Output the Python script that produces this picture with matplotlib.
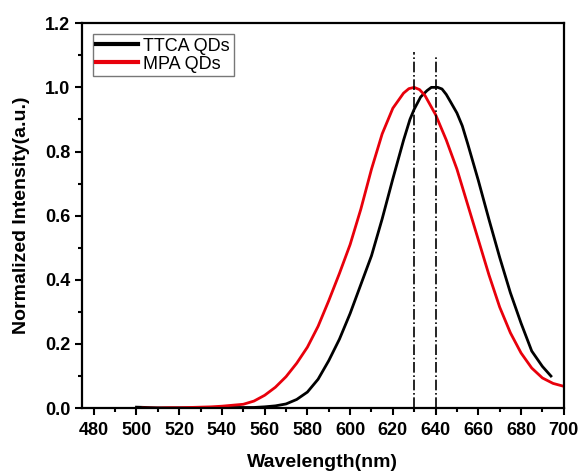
import numpy as np
import matplotlib
matplotlib.use("Agg")
import matplotlib.pyplot as plt
from matplotlib.ticker import MultipleLocator, FormatStrFormatter

plt.rcParams['font.family'] = ['Liberation Sans', 'DejaVu Sans']

# TTCA QDs (black)
wl_ttca = [500, 505, 510, 520, 530, 540, 550, 555, 560, 565, 570, 575, 580, 585,
           590, 595, 600, 605, 610, 615, 620, 625, 628, 630, 633, 636, 638, 641,
           643, 645, 647, 650, 652.5, 655, 660, 665, 670, 675, 680, 685, 690, 694]
int_ttca = [0.003, 0.002, 0.001, 0.001, 0.001, 0.002, 0.002, 0.002, 0.004, 0.007,
            0.013, 0.027, 0.05, 0.09, 0.148, 0.215, 0.295, 0.385, 0.475, 0.59,
            0.715, 0.835, 0.9, 0.932, 0.97, 0.99, 1.0, 1.0, 0.995, 0.978, 0.955,
            0.92, 0.88, 0.825, 0.71, 0.588, 0.47, 0.36, 0.265, 0.178, 0.13, 0.1]

# MPA QDs (red)
wl_mpa = [503, 510, 515, 520, 525, 530, 535, 540, 545, 550, 555, 560, 565, 570,
          575, 580, 585, 590, 595, 600, 605, 610, 615, 620, 625, 627.5, 630,
          632.5, 635, 640, 645, 650, 655, 660, 665, 670, 675, 680, 685, 690, 695,
          700]
int_mpa = [0.0, 0.0, 0.001, 0.001, 0.002, 0.003, 0.004, 0.006, 0.009, 0.012,
           0.022, 0.04, 0.065, 0.098, 0.14, 0.19, 0.255, 0.335, 0.42, 0.51, 0.62,
           0.745, 0.855, 0.935, 0.982, 0.996, 1.0, 0.993, 0.975, 0.915, 0.836,
           0.745, 0.635, 0.525, 0.415, 0.315, 0.235, 0.172, 0.125, 0.094, 0.077,
           0.068]

peaks = [630, 640]
peak_tops = [1.11, 1.095]

fig = plt.figure(figsize=(5.8, 4.74), dpi=100)
ax = fig.add_axes([0.1414, 0.139, 0.8306, 0.812])

ax.plot(wl_ttca, int_ttca, color='black', lw=2.0, label='TTCA QDs')
ax.plot(wl_mpa, int_mpa, color='#e8000b', lw=2.0, label='MPA QDs')
ax.vlines(peaks, 0, peak_tops, colors='black', linestyles='-.', lw=1.2)

ax.set_xlim(474.5, 700)
ax.set_ylim(0, 1.2)
ax.xaxis.set_major_locator(MultipleLocator(20))
ax.xaxis.set_minor_locator(MultipleLocator(10))
ax.yaxis.set_major_locator(MultipleLocator(0.2))
ax.yaxis.set_minor_locator(MultipleLocator(0.1))
ax.yaxis.set_major_formatter(FormatStrFormatter('%.1f'))

for s in ax.spines.values():
    s.set_linewidth(1.6)
ax.tick_params(which='major', direction='out', length=5, width=1.5,
               labelsize=13)
ax.tick_params(axis='x', which='major', pad=5)
ax.tick_params(which='minor', direction='out', length=3, width=1.5)
for lab in ax.get_xticklabels() + ax.get_yticklabels():
    lab.set_fontweight('bold')

ax.set_xlabel('Wavelength(nm)', fontsize=14, fontweight='bold', labelpad=11)
ax.set_ylabel('Normalized Intensity(a.u.)', fontsize=14, fontweight='bold',
              labelpad=11)

leg = ax.legend(loc='upper left', fontsize=13, frameon=True, fancybox=False,
                handlelength=2.3, handletextpad=0.3, borderpad=0.2,
                labelspacing=0.05, borderaxespad=0.6)
leg.get_frame().set_edgecolor('#555555')
leg.get_frame().set_linewidth(1.0)
for line in leg.get_lines():
    line.set_linewidth(3)

fig.savefig('out.png', dpi=100)
